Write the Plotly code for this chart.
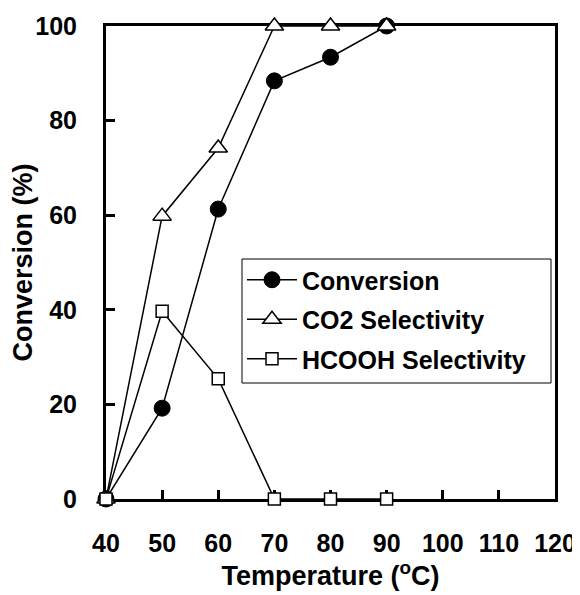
import plotly.graph_objects as go

temperature = [40, 50, 60, 70, 80, 90]
conversion = [0, 19.2, 61.3, 88.4, 93.4, 100]
co2_selectivity = [0, 59.8, 74.2, 100, 100, 100]
hcooh_selectivity = [0, 39.7, 25.4, 0, 0, 0]

x_ticks = [40, 50, 60, 70, 80, 90, 100, 110, 120]
y_ticks = [0, 20, 40, 60, 80, 100]

font_family = "Liberation Sans, Arial, sans-serif"

# page body has an 8px margin, so the figure is 572x587 to fill the 580x595 window
W, H = 572, 587
ML, MR, MT, MB = 98, 25, 18, 96
plot_w = W - ML - MR
plot_h = H - MT - MB


def px_x(win_x):
    return (win_x - 8 - ML) / plot_w


def px_y(win_y):
    return (H - MB - (win_y - 8)) / plot_h


fig = go.Figure()
fig.add_trace(go.Scatter(
    x=temperature, y=conversion, name="<b>Conversion</b>", mode="lines+markers",
    legendgroup="a",
    line=dict(color="black", width=1.5),
    marker=dict(symbol="circle", size=16, color="black", line=dict(color="black", width=1)),
    cliponaxis=False))
fig.add_trace(go.Scatter(
    x=temperature, y=co2_selectivity, name="<b>CO2 Selectivity</b>", mode="lines+markers",
    legendgroup="b",
    line=dict(color="black", width=1.5),
    marker=dict(symbol="triangle-up", size=16, color="white", line=dict(color="black", width=1.5)),
    cliponaxis=False))
fig.add_trace(go.Scatter(
    x=temperature, y=hcooh_selectivity, name="<b>HCOOH Selectivity</b>", mode="lines+markers",
    legendgroup="c",
    line=dict(color="black", width=1.5),
    marker=dict(symbol="square", size=12, color="white", line=dict(color="black", width=1.5)),
    cliponaxis=False))

# legend frame
fig.add_shape(type="rect", xref="paper", yref="paper",
              x0=px_x(242), x1=px_x(551), y0=px_y(383), y1=px_y(259),
              line=dict(color="black", width=1), fillcolor="white", layer="above")

fig.update_layout(
    width=W, height=H,
    margin=dict(l=ML, r=MR, t=MT, b=MB),
    paper_bgcolor="white", plot_bgcolor="white",
    font=dict(family=font_family, size=25, color="black"),
    showlegend=True,
    legend=dict(
        x=px_x(242), y=px_y(257), xanchor="left", yanchor="top",
        bgcolor="rgba(0,0,0,0)", borderwidth=0,
        font=dict(family=font_family, size=25, color="black"),
        traceorder="grouped", tracegroupgap=4, itemwidth=50,
    ),
)
fig.update_xaxes(
    range=[40, 120], tickvals=x_ticks, ticktext=[f"<b>{v}</b>" for v in x_ticks],
    showgrid=False, zeroline=False, automargin=False,
    showline=True, linecolor="black", linewidth=3, mirror=True,
    ticks="inside", ticklen=9, tickwidth=2.5, tickcolor="black",
    ticklabelstandoff=20,
    layer="below traces",
    tickfont=dict(size=25),
    title=dict(text="<b>Temperature (<sup>o</sup>C)</b>", font=dict(size=27), standoff=4),
)
fig.update_yaxes(
    range=[0, 100], tickvals=y_ticks, ticktext=[f"<b>{v}</b>" for v in y_ticks],
    showgrid=False, zeroline=False, automargin=False,
    showline=True, linecolor="black", linewidth=3, mirror=True,
    ticks="inside", ticklen=9, tickwidth=2.5, tickcolor="black",
    ticklabelstandoff=21,
    layer="below traces",
    tickfont=dict(size=25),
    title=dict(text="<b>Conversion (%)</b>", font=dict(size=27), standoff=12),
)

fig.write_html("out.html")
